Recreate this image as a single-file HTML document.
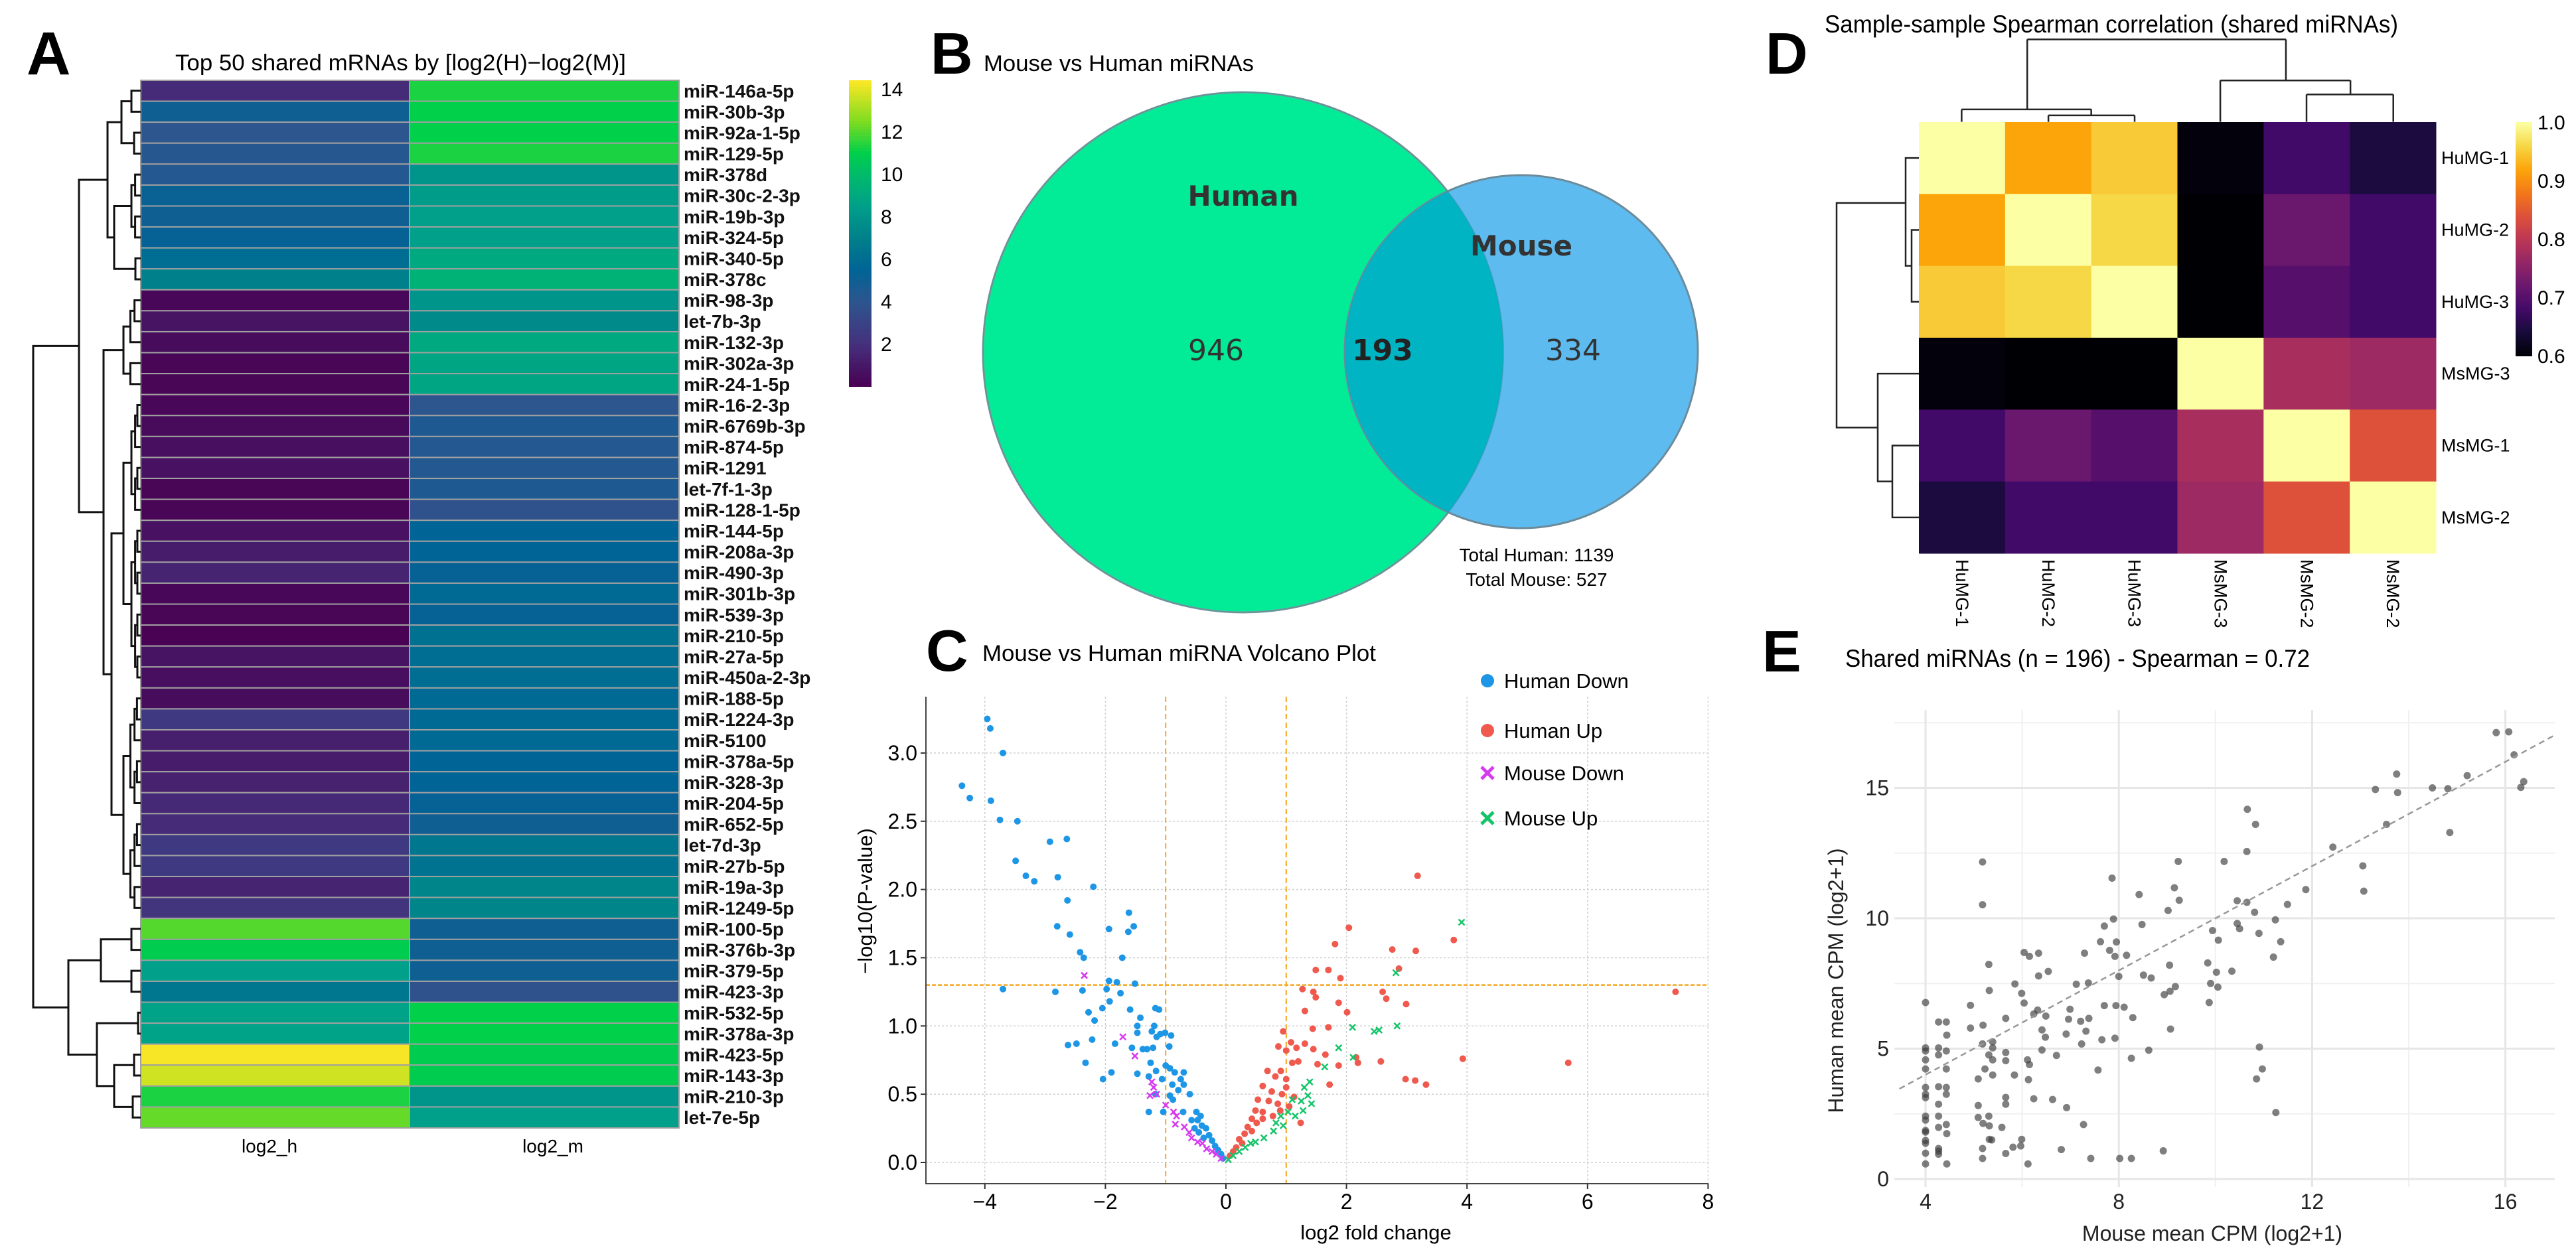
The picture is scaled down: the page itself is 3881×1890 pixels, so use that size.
<!DOCTYPE html>
<html><head><meta charset="utf-8"><title>miRNA comparison figure</title>
<style>
html,body{margin:0;padding:0;background:#fff;}
svg{display:block;font-family:"Liberation Sans",Arial,sans-serif;}
</style></head>
<body>
<svg id="fig" xmlns="http://www.w3.org/2000/svg" width="3881" height="1890" viewBox="0 0 3881 1890">
<defs><clipPath id="humanClip"><circle cx="1873" cy="531" r="392"/></clipPath></defs>
<rect x="0" y="0" width="3881" height="1890" fill="#fff"/>
<!-- Panel letters -->
<text x="40" y="112" font-size="92" font-weight="bold">A</text>
<text x="1402" y="111" font-size="88" font-weight="bold">B</text>
<text x="1395" y="1011" font-size="88" font-weight="bold">C</text>
<text x="2660" y="111" font-size="88" font-weight="bold">D</text>
<text x="2655" y="1012" font-size="88" font-weight="bold">E</text>
<!-- Titles -->
<text x="264" y="106" font-size="34" textLength="679" lengthAdjust="spacingAndGlyphs">Top 50 shared mRNAs by [log2(H)−log2(M)]</text>
<text x="1482" y="107" font-size="34" textLength="407" lengthAdjust="spacingAndGlyphs">Mouse vs Human miRNAs</text>
<text x="1480" y="996" font-size="34" textLength="593" lengthAdjust="spacingAndGlyphs">Mouse vs Human miRNA Volcano Plot</text>
<text x="2749" y="49" font-size="37" textLength="864" lengthAdjust="spacingAndGlyphs">Sample-sample Spearman correlation (shared miRNAs)</text>
<text x="2780" y="1005" font-size="37" textLength="700" lengthAdjust="spacingAndGlyphs">Shared miRNAs (n = 196) - Spearman = 0.72</text>

<!-- Venn -->
<g>
<circle cx="1873" cy="531" r="392" fill="#02EC98" stroke="#8a9a94" stroke-width="3"/>
<circle cx="2292" cy="530" r="266" fill="#5EBBF0" stroke="#7f8f99" stroke-width="3"/>
<circle cx="2292" cy="530" r="266" fill="#00B4C4" clip-path="url(#humanClip)"/>
<circle cx="1873" cy="531" r="392" fill="none" stroke="#3a8fa8" stroke-opacity="0.5" stroke-width="2" clip-path="none"/>
<circle cx="2292" cy="530" r="266" fill="none" stroke="#5a8aa0" stroke-opacity="0.6" stroke-width="2.5"/>
<text x="1873" y="310" font-family="DejaVu Sans, sans-serif" font-size="42" font-weight="bold" fill="#333" text-anchor="middle">Human</text>
<text x="2292" y="385" font-family="DejaVu Sans, sans-serif" font-size="42" font-weight="bold" fill="#333" text-anchor="middle">Mouse</text>
<text x="1832" y="543" font-family="DejaVu Sans, sans-serif" font-size="44" fill="#333" text-anchor="middle">946</text>
<text x="2083" y="543" font-family="DejaVu Sans, sans-serif" font-size="44" font-weight="bold" fill="#222" text-anchor="middle">193</text>
<text x="2370" y="543" font-family="DejaVu Sans, sans-serif" font-size="44" fill="#333" text-anchor="middle">334</text>
<text x="2315" y="846" font-size="28" text-anchor="middle">Total Human: 1139</text>
<text x="2315" y="883" font-size="28" text-anchor="middle">Total Mouse: 527</text>
</g>
<g id="pa"></g><g id="pc"></g><g id="pd"></g><g id="pe"></g>
</svg>
<script>
const NS='http://www.w3.org/2000/svg';
function mk(tag,attrs,parent,txt){const e=document.createElementNS(NS,tag);for(const k in attrs)e.setAttribute(k,attrs[k]);if(txt!==undefined)e.textContent=txt;parent.appendChild(e);return e;}

/* ===== Panel A data ===== */
const aRows=['miR-146a-5p','miR-30b-3p','miR-92a-1-5p','miR-129-5p','miR-378d','miR-30c-2-3p','miR-19b-3p','miR-324-5p','miR-340-5p','miR-378c','miR-98-3p','let-7b-3p','miR-132-3p','miR-302a-3p','miR-24-1-5p','miR-16-2-3p','miR-6769b-3p','miR-874-5p','miR-1291','let-7f-1-3p','miR-128-1-5p','miR-144-5p','miR-208a-3p','miR-490-3p','miR-301b-3p','miR-539-3p','miR-210-5p','miR-27a-5p','miR-450a-2-3p','miR-188-5p','miR-1224-3p','miR-5100','miR-378a-5p','miR-328-3p','miR-204-5p','miR-652-5p','let-7d-3p','miR-27b-5p','miR-19a-3p','miR-1249-5p','miR-100-5p','miR-376b-3p','miR-379-5p','miR-423-3p','miR-532-5p','miR-378a-3p','miR-423-5p','miR-143-3p','miR-210-3p','let-7e-5p'];
const aLog2H=[1.8,5.0,4.0,4.2,4.3,5.2,5.0,5.3,6.0,7.0,0.3,0.8,0.5,0.2,0.2,0.3,0.4,0.6,0.7,0.2,0.2,0.7,1.2,1.5,0.3,0.2,0.1,0.8,0.6,0.5,2.5,1.3,1.2,1.4,1.7,1.8,2.5,2.5,1.5,2.2,12.0,10.8,8.5,6.5,8.6,8.6,14.3,13.7,11.3,12.2];
const aLog2M=[11.3,11.0,11.0,11.3,8.0,8.3,8.5,8.5,9.0,9.5,8.0,7.5,9.0,8.8,8.8,4.0,4.5,4.3,4.3,4.5,3.8,5.5,5.5,5.3,5.8,5.3,6.2,6.0,6.0,5.8,5.8,5.8,5.5,5.5,5.3,5.0,6.5,6.3,7.3,7.3,5.0,5.0,5.0,3.8,11.0,11.0,10.8,10.8,8.0,8.5];
const aCols=['log2_h','log2_m'];
const aTicks=[2,4,6,8,10,12,14];
function grp(a,b,d){if(a===b)return a;const m=Math.floor((a+b)/2);return [d,grp(a,m,d*0.6),grp(m+1,b,d*0.6)];}
const aTree=[162,
  [93,[50,[29,grp(0,1,14),grp(2,3,10)],[40,grp(4,7,14),grp(8,9,8)]],
      [56,grp(10,14,26),[44,[26,grp(15,20,14),grp(21,28,14)],grp(29,39,26)]]],
  [109,[60,grp(40,41,14),grp(42,43,14)],[66,grp(44,45,4),[40,grp(46,47,10),grp(48,49,12)]]]];

function viridisLike(v){
  const s=[[0,[73,0,82]],[2,[69,48,124]],[4,[45,85,142]],[5.5,[0,100,150]],[7,[0,128,138]],[8.5,[0,160,138]],[10,[0,187,106]],[11,[0,208,74]],[12.5,[128,220,32]],[14.4,[253,231,37]]];
  if(v<=s[0][0])return 'rgb('+s[0][1]+')';
  for(let i=1;i<s.length;i++){if(v<=s[i][0]){const t=(v-s[i-1][0])/(s[i][0]-s[i-1][0]);const c=s[i-1][1].map((x,k)=>Math.round(x+(s[i][1][k]-x)*t));return 'rgb('+c+')';}}
  return 'rgb('+s[s.length-1][1]+')';
}
(function(){
  const g=document.getElementById('pa');
  
  
  const x0=212,xm=617,x1=1023,y0=121,y1=1700,rh=(y1-y0)/aRows.length;
  const vals=[aLog2H,aLog2M];
  for(let i=0;i<aRows.length;i++){
    for(let j=0;j<2;j++){
      const xa=j?xm:x0,xb=j?x1:xm;
      const r=mk('rect',{x:xa,y:y0+i*rh,width:xb-xa,height:rh,fill:viridisLike(vals[j][i]),stroke:'#a0a0a0','stroke-width':2},g);
      
      
    }
    const t=mk('text',{x:1030,y:y0+(i+0.5)*rh+10,'font-size':28,'font-weight':'bold',fill:'#111'},g,aRows[i]);
    
    
  }
  aCols.forEach((c,j)=>{
    const t=mk('text',{x:j?833:406,y:1737,'font-size':28,'text-anchor':'middle'},g,c);
    
    
  });
  const cb0=121,cb1=582,vmax=14.4,cbY=v=>cb1-(v/vmax)*(cb1-cb0);
  for(let k=0;k<100;k++){
    const r=mk('rect',{x:1279,y:cb1-(k+1)*(cb1-cb0)/100,width:34,height:(cb1-cb0)/100+1,fill:viridisLike((k+0.5)*vmax/100)},g);
    
    
  }
  aTicks.forEach(v=>{
    const t=mk('text',{x:1327,y:cbY(v)+11,'font-size':30},g,String(v));
    
    
  });
  function draw(n){
    if(typeof n==='number')return {x:x0,y:y0+(n+0.5)*rh};
    const a=draw(n[1]),b=draw(n[2]),x=x0-n[0];
    const p=mk('path',{d:`M${a.x},${a.y}H${x}V${b.y}H${b.x}`,fill:'none',stroke:'#111','stroke-width':3},g);
    
    
    return {x:x,y:(a.y+b.y)/2};
  }
  draw(aTree);
})();

/* ===== Panel C data (volcano) ===== */
const hdX=[-3.96,-3.91,-3.70,-4.38,-4.25,-3.90,-3.75,-3.46,-2.92,-2.64,-3.49,-3.32,-3.18,-2.79,-2.20,-2.63,-2.80,-2.59,-1.94,-1.61,-1.53,-1.62,-2.42,-2.36,-1.72,-3.70,-2.83,-2.38,-1.94,-1.81,-1.51,-1.98,-1.75,-1.93,-2.05,-2.28,-2.18,-1.59,-1.17,-1.11,-1.42,-1.47,-1.19,-1.23,-1.09,-1.01,-0.91,-1.47,-1.15,-2.62,-2.48,-2.22,-1.84,-1.56,-1.38,-1.31,-1.21,-0.94,-2.33,-1.25,-1.00,-0.93,-2.04,-1.90,-1.47,-1.28,-1.16,-1.06,-0.85,-0.70,-0.75,-0.89,-0.70,-0.79,-0.60,-0.93,-1.17,-0.88,-1.28,-1.04,-0.71,-0.49,-0.42,-0.57,-0.47,-0.40,-0.52,-0.33,-0.28,-0.37,-0.23,-0.18,-0.13,-0.08,-0.05,-0.45];
const hdY=[3.25,3.18,3.00,2.76,2.67,2.65,2.51,2.50,2.35,2.37,2.21,2.10,2.06,2.09,2.02,1.92,1.73,1.67,1.71,1.83,1.73,1.69,1.54,1.50,1.50,1.27,1.25,1.26,1.33,1.32,1.31,1.27,1.24,1.18,1.13,1.10,1.04,1.12,1.13,1.12,1.06,1.00,1.00,0.96,0.94,0.95,0.93,0.95,0.92,0.86,0.87,0.90,0.87,0.84,0.83,0.83,0.84,0.85,0.73,0.73,0.71,0.69,0.61,0.66,0.65,0.63,0.67,0.61,0.66,0.66,0.61,0.57,0.57,0.53,0.50,0.49,0.50,0.46,0.37,0.37,0.37,0.37,0.34,0.31,0.31,0.27,0.25,0.25,0.20,0.18,0.16,0.12,0.09,0.06,0.03,0.22];
const huX=[3.18,2.04,1.81,2.76,3.15,3.78,1.49,1.70,2.87,1.90,1.27,1.45,1.49,2.60,2.66,1.87,2.99,7.46,1.31,2.01,0.95,1.44,1.70,1.08,1.31,0.87,1.17,1.45,1.00,1.65,2.16,3.93,5.68,1.52,1.87,2.19,2.57,0.69,0.91,1.10,1.20,0.82,1.00,0.61,1.72,2.98,3.14,3.32,0.76,0.93,0.53,0.71,0.86,0.49,0.61,1.24,0.43,0.51,0.36,0.31,0.43,0.22,0.27,0.17,0.12,0.07,0.61,0.78,0.90,1.05,1.13,1.00];
const huY=[2.10,1.72,1.60,1.56,1.55,1.63,1.41,1.41,1.42,1.35,1.27,1.25,1.21,1.25,1.20,1.17,1.16,1.25,1.11,1.10,0.96,0.98,0.99,0.88,0.87,0.85,0.84,0.83,0.82,0.79,0.77,0.76,0.73,0.72,0.71,0.73,0.74,0.67,0.67,0.73,0.74,0.63,0.61,0.56,0.57,0.61,0.60,0.57,0.52,0.50,0.46,0.45,0.43,0.38,0.37,0.29,0.32,0.29,0.26,0.21,0.23,0.17,0.14,0.11,0.08,0.05,0.32,0.34,0.38,0.41,0.48,0.55];
const mdX=[-2.35,-1.71,-1.51,-1.23,-1.20,-1.26,-1.15,-1.00,-0.87,-0.82,-0.84,-0.69,-0.61,-0.57,-0.47,-0.39,-0.32,-0.23,-0.16,-0.08];
const mdY=[1.37,0.92,0.78,0.59,0.55,0.49,0.50,0.42,0.37,0.34,0.28,0.26,0.22,0.18,0.15,0.14,0.10,0.08,0.06,0.03];
const muX=[3.91,2.82,2.10,2.46,2.54,2.84,1.87,2.11,1.64,1.39,1.30,1.36,1.42,1.28,1.10,1.03,0.91,0.83,0.95,0.79,0.63,0.49,0.41,0.32,0.22,0.12,0.04,1.15,1.25];
const muY=[1.76,1.39,0.99,0.96,0.97,1.00,0.84,0.77,0.70,0.59,0.55,0.49,0.43,0.38,0.46,0.37,0.34,0.29,0.27,0.23,0.18,0.15,0.14,0.11,0.08,0.05,0.02,0.34,0.45];
const cXTicks=[-4,-2,0,2,4,6,8];
const cYTicks=[0.0,0.5,1.0,1.5,2.0,2.5,3.0];
const cLegend=['Human Down','Human Up','Mouse Down','Mouse Up'];
const cThreshX=[-1,1];
const cThreshY=1.3;
(function(){
  const g=document.getElementById('pc');
  
  
  const X=v=>1847+v*90.8, Y=v=>1752-v*205.7;
  const L=1395,R=2574,T=1050,B=1784;
  cXTicks.forEach(v=>{
    const l=mk('line',{x1:X(v),x2:X(v),y1:T,y2:B,stroke:'#cfcfcf','stroke-width':1.5,'stroke-dasharray':'3,3'},g);
    
    
    const tk=mk('line',{x1:X(v),x2:X(v),y1:B,y2:B+8,stroke:'#333','stroke-width':2},g);
    
    
    const t=mk('text',{x:X(v),y:1822,'font-size':32,'text-anchor':'middle'},g,v<0?'−'+Math.abs(v):String(v));
    
    
  });
  cYTicks.forEach(v=>{
    const l=mk('line',{x1:L,x2:R,y1:Y(v),y2:Y(v),stroke:'#cfcfcf','stroke-width':1.5,'stroke-dasharray':'3,3'},g);
    
    
    const tk=mk('line',{x1:L-8,x2:L,y1:Y(v),y2:Y(v),stroke:'#333','stroke-width':2},g);
    
    
    const t=mk('text',{x:1382,y:Y(v)+11,'font-size':32,'text-anchor':'end'},g,v.toFixed(1));
    
    
  });
  cThreshX.forEach(v=>{
    const l=mk('line',{x1:X(v),x2:X(v),y1:T,y2:B,stroke:'#F5A623','stroke-width':2,'stroke-dasharray':'8,5'},g);
    
    
  });
  const th=mk('line',{x1:L,x2:R,y1:Y(cThreshY),y2:Y(cThreshY),stroke:'#F5A623','stroke-width':2.5,'stroke-dasharray':'6,3'},g);
  
  
  const ax=mk('path',{d:`M${L},${T}V${B}H${R}`,fill:'none',stroke:'#444','stroke-width':2},g);
  
  
  function dots(xs,ys,col,name){xs.forEach((v,i)=>{const c=mk('circle',{cx:X(v),cy:Y(ys[i]),r:5,fill:col},g);});}
  function crosses(xs,ys,col,name){xs.forEach((v,i)=>{const x=X(v),y=Y(ys[i]),s=4.5;const p=mk('path',{d:`M${x-s},${y-s}L${x+s},${y+s}M${x-s},${y+s}L${x+s},${y-s}`,stroke:col,'stroke-width':2.5},g);});}
  dots(hdX,hdY,'#1E96E6','human-down-point');
  dots(huX,huY,'#F0594E','human-up-point');
  crosses(mdX,mdY,'#D63AF0','mouse-down-point');
  crosses(muX,muY,'#14C46A','mouse-up-point');
  const lcol=['#1E96E6','#F0594E','#D63AF0','#14C46A'], ly=[1026,1101,1165,1233];
  cLegend.forEach((s,i)=>{
    const x=2241,y=ly[i];
    let m;
    if(i<2){m=mk('circle',{cx:x,cy:y,r:10,fill:lcol[i]},g);}
    else{m=mk('path',{d:`M${x-9},${y-9}L${x+9},${y+9}M${x-9},${y+9}L${x+9},${y-9}`,stroke:lcol[i],'stroke-width':5},g);}
    
    
    const t=mk('text',{x:2266,y:y+11,'font-size':31},g,s);
    
    
  });
  const xl=mk('text',{x:2073,y:1868,'font-size':31,'text-anchor':'middle'},g,'log2 fold change');
  
  
  const yl=mk('text',{x:0,y:0,'font-size':31,'text-anchor':'middle',transform:'translate(1314,1358) rotate(-90)'},g,'−log10(P-value)');
  
  
})();

/* ===== Panel D data (correlation) ===== */
const dRows=['HuMG-1','HuMG-2','HuMG-3','MsMG-3','MsMG-1','MsMG-2'];
const dCols=['HuMG-1','HuMG-2','HuMG-3','MsMG-3','MsMG-2','MsMG-2'];
const dR0=[1.0,0.92,0.95,0.605,0.68,0.645];
const dR1=[0.92,1.0,0.96,0.58,0.72,0.68];
const dR2=[0.95,0.96,1.0,0.58,0.70,0.68];
const dR3=[0.605,0.58,0.58,1.0,0.78,0.77];
const dR4=[0.68,0.72,0.70,0.78,1.0,0.84];
const dR5=[0.645,0.68,0.68,0.77,0.84,1.0];
const dTicks=[0.6,0.7,0.8,0.9,1.0];
function inferno(v){
  const s=[[0,0,4],[22,11,57],[66,10,104],[106,23,110],[147,38,103],[188,55,84],[221,81,58],[243,120,25],[252,165,10],[246,215,70],[252,255,164]];
  let t=Math.max(0,Math.min(1,(v-0.6)/0.4))*10;const i=Math.min(9,Math.floor(t)),f=t-i;
  const c=s[i].map((x,k)=>Math.round(x+(s[i+1][k]-x)*f));return 'rgb('+c+')';
}
(function(){
  const g=document.getElementById('pd');
  
  
  const M=[dR0,dR1,dR2,dR3,dR4,dR5];
  const x0=2891,y0=184,cw=(3670-2891)/6,ch=(834-184)/6;
  M.forEach((row,i)=>row.forEach((v,j)=>{
    const r=mk('rect',{x:x0+j*cw,y:y0+i*ch,width:cw+0.5,height:ch+0.5,fill:inferno(v)},g);
    
    
  }));
  dRows.forEach((s,i)=>{
    const t=mk('text',{x:3678,y:y0+(i+0.5)*ch+9,'font-size':27},g,s);
    
    
  });
  dCols.forEach((s,j)=>{
    const cx=x0+(j+0.5)*cw;
    const t=mk('text',{x:0,y:0,'font-size':27,transform:`translate(${cx-9},843) rotate(90)`},g,s);
    
    
  });
  const cb0=184,cb1=536,cbY=v=>cb1-(v-0.6)/0.4*(cb1-cb0);
  for(let k=0;k<100;k++){
    const r=mk('rect',{x:3790,y:cb1-(k+1)*(cb1-cb0)/100,width:25,height:(cb1-cb0)/100+1,fill:inferno(0.6+(k+0.5)*0.004)},g);
    
    
  }
  dTicks.forEach(v=>{
    const t=mk('text',{x:3823,y:cbY(v)+11,'font-size':30},g,v.toFixed(1));
    
    
  });
  const sx=z=>2600+z*0.817, sy=z=>z*0.606;
  const top=[[556,98,1033],[556,98,556,272],[1033,98,1033,200],[435,272,674,272],[435,272,435,303],[674,272,674,287],[595,287,754,287],[595,287,595,303],[754,287,754,303],[912,200,1152,200],[912,200,912,303],[1152,200,1152,235],[1071,235,1231,235],[1071,235,1071,303],[1231,235,1231,303]];
  top.forEach(s=>{
    const d=s.length===3?`M${sx(s[0])},${sy(s[1])}H${sx(s[2])}`:`M${sx(s[0])},${sy(s[1])}L${sx(s[2])},${sy(s[3])}`;
    const p=mk('path',{d:d,stroke:'#222','stroke-width':2.5,fill:'none'},g);
    
    
  });
  const rc=i=>y0+(i+0.5)*ch;
  const left=[`M2891,${rc(0)}H2871V${(rc(1)+rc(2))/2}H2880`,`M2891,${rc(1)}H2880V${rc(2)}H2891`,`M2871,${(rc(0)+rc(1.25))/2}H2767V${(rc(3)+rc(4.5))/2}H2829`,`M2891,${rc(3)}H2829V${(rc(4)+rc(5))/2}H2851`,`M2891,${rc(4)}H2851V${rc(5)}H2891`];
  left.forEach(d=>{
    const p=mk('path',{d:d,stroke:'#222','stroke-width':2.5,fill:'none'},g);
    
    
  });
})();

/* ===== Panel E data (scatter) ===== */
const eMouse=[15.81,16.07,16.18,16.38,16.32,15.21,14.49,14.81,13.75,13.77,13.31,13.54,14.85,12.43,13.05,13.07,11.87,11.49,10.66,10.83,10.65,10.18,9.23,9.15,9.25,9.02,8.42,10.45,10.65,10.81,10.45,10.50,9.94,10.90,11.24,10.06,11.35,8.48,7.86,7.89,7.70,7.62,7.95,7.81,7.92,8.16,7.29,8.0,8.51,8.67,9.05,9.84,10.02,10.34,10.05,9.9,9.87,9.17,9.06,8.94,9.07,11.2,10.91,10.97,10.85,11.25,8.62,8.26,8.29,8.11,7.94,7.70,7.65,7.92,7.38,7.37,7.12,7.21,6.99,6.96,7.32,7.23,6.91,6.71,7.57,6.41,6.48,6.41,6.32,6.49,6.24,6.54,6.34,6.34,6.15,6.04,6.04,5.99,5.85,5.66,5.31,5.32,5.18,5.18,4.93,4.93,5.19,5.18,5.39,5.39,5.31,5.39,5.66,5.66,5.23,5.09,5.39,5.84,6.11,6.15,6.13,6.24,6.63,5.66,5.66,5.09,5.09,5.31,5.19,5.32,5.58,6.92,7.27,5.32,5.37,5.99,5.81,5.97,5.66,5.18,5.18,6.12,6.81,7.42,8.02,8.26,8.92,4,4,4,4,4,4,4,4,4,4,4,4,4,4,4,4,4.27,4.43,4.27,4.43,4.27,4.44,4.43,4.27,4.43,4.43,4.27,4.27,4.27,4.43,4.44,4.27,4.27,4.27,4.44];
const eHuman=[17.12,17.15,16.27,15.24,15.02,15.47,15.0,14.97,15.53,14.82,14.94,13.6,13.29,12.73,12.01,11.04,11.10,10.53,14.18,13.6,12.56,12.18,12.18,11.17,10.69,10.3,10.91,10.67,10.61,10.23,9.80,9.60,9.53,9.42,9.94,9.16,9.10,9.76,11.54,9.97,9.70,9.10,9.09,8.77,8.54,8.58,8.66,7.77,7.82,7.71,8.2,8.29,7.93,7.97,7.36,7.5,6.77,7.38,7.20,7.07,5.75,8.51,5.06,4.22,3.84,2.55,4.94,4.63,6.19,6.59,6.65,6.65,5.34,5.40,6.16,7.52,7.47,6.05,6.51,6.13,5.67,5.18,5.56,4.74,4.18,4.95,5.44,5.72,6.48,6.25,6.33,7.96,7.79,8.66,8.54,8.69,6.75,7.12,7.48,6.16,8.23,7.23,12.16,10.52,6.66,5.79,5.90,5.18,5.26,5.03,4.76,4.57,4.85,4.54,4.22,3.84,3.99,3.99,4.57,4.39,3.81,3.08,3.05,3.13,2.87,2.82,2.36,2.41,2.13,2.04,1.98,2.74,2.09,1.52,1.50,1.52,1.22,1.27,0.98,1.17,0.79,0.58,1.13,0.79,0.79,0.79,1.08,6.77,5.03,4.91,4.57,4.22,3.51,3.25,3.12,2.41,2.26,1.86,1.80,1.48,1.37,0.99,0.58,6.02,6.02,5.03,4.91,4.76,5.52,4.22,3.54,3.51,3.25,2.87,2.41,1.98,2.09,1.74,1.17,1.07,0.95,0.58];
const eXTicks=[4,8,12,16];
const eYTicks=[0,5,10,15];
const eFit=[3.46,17.05];
(function(){
  const g=document.getElementById('pe');
  
  
  const X=v=>2901+(v-4)*72.8, Y=v=>1777-v*39.3;
  const L=2854,R=3849,T=1070,B=1789;
  [6,10,14].forEach(v=>{const l=mk('line',{x1:X(v),x2:X(v),y1:T,y2:B,stroke:'#f0f0f0','stroke-width':2},g);});
  [2.5,7.5,12.5,17.5].forEach(v=>{const l=mk('line',{x1:L,x2:R,y1:Y(v),y2:Y(v),stroke:'#f0f0f0','stroke-width':2},g);});
  eXTicks.forEach(v=>{
    const l=mk('line',{x1:X(v),x2:X(v),y1:T,y2:B,stroke:'#e6e6e6','stroke-width':3},g);
    
    
    const t=mk('text',{x:X(v),y:1822,'font-size':32,'text-anchor':'middle',fill:'#222'},g,String(v));
    
    
  });
  eYTicks.forEach(v=>{
    const l=mk('line',{x1:L,x2:R,y1:Y(v),y2:Y(v),stroke:'#e6e6e6','stroke-width':3},g);
    
    
    const t=mk('text',{x:2846,y:Y(v)+11,'font-size':32,'text-anchor':'end',fill:'#222'},g,String(v));
    
    
  });
  eMouse.forEach((v,i)=>{
    const c=mk('circle',{cx:X(v),cy:Y(eHuman[i]),r:5.5,fill:'#3a3a3a','fill-opacity':0.65},g);
    
    
  });
  const fl=mk('line',{x1:X(eFit[0]),y1:Y(eFit[0]),x2:X(eFit[1]),y2:Y(eFit[1]),stroke:'#999','stroke-width':2.5,'stroke-dasharray':'9,6'},g);
  
  
  const xl=mk('text',{x:3333,y:1870,'font-size':32,'text-anchor':'middle',fill:'#222'},g,'Mouse mean CPM (log2+1)');
  
  
  const yl=mk('text',{x:0,y:0,'font-size':32,'text-anchor':'middle',fill:'#222',transform:'translate(2777,1478) rotate(-90)'},g,'Human mean CPM (log2+1)');
  
  
})();
</script>
</body></html>
